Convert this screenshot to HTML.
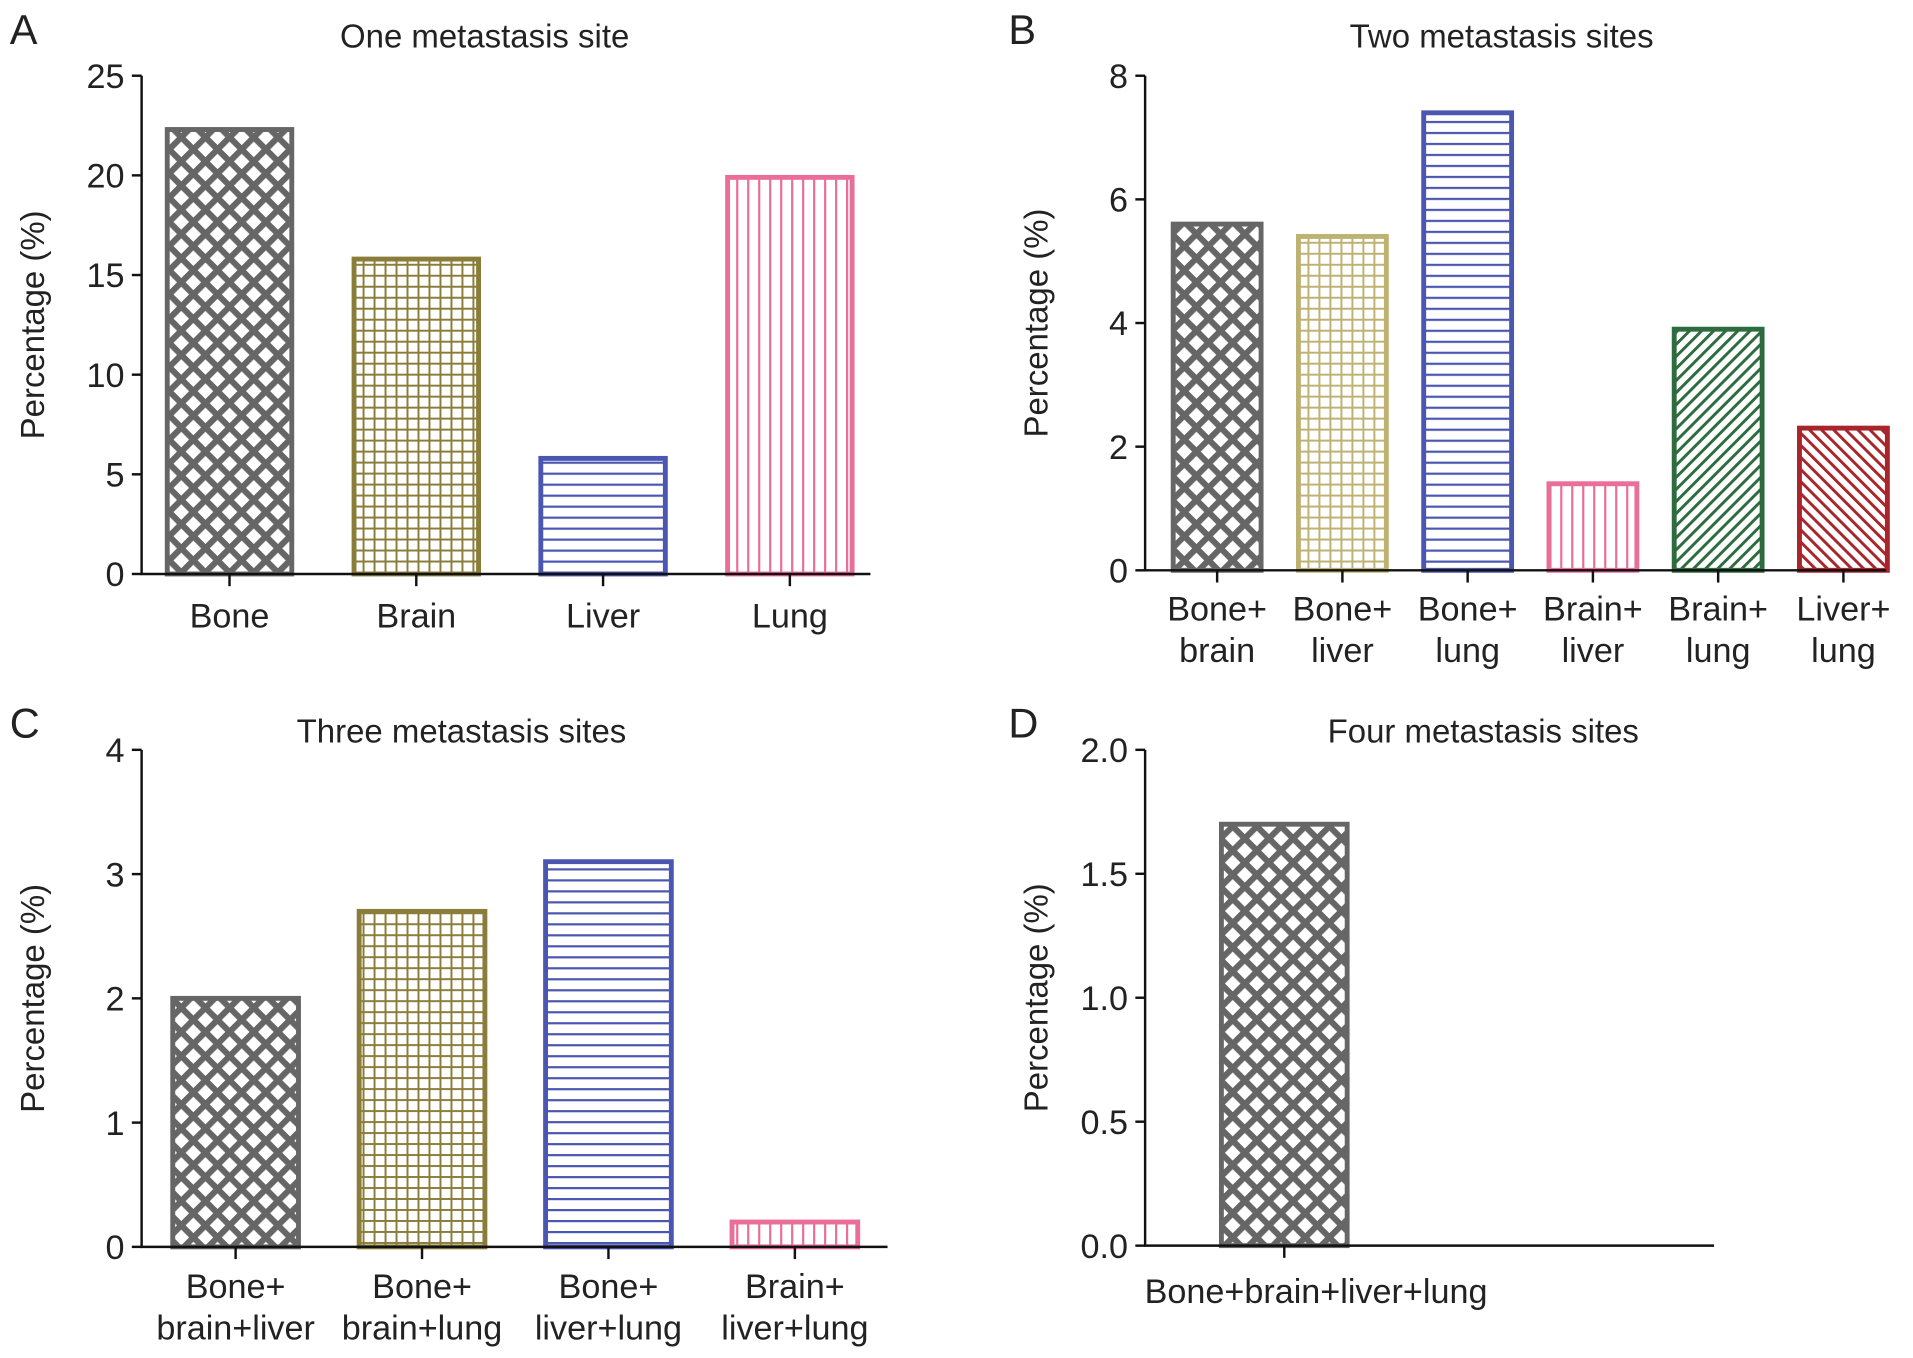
<!DOCTYPE html>
<html><head><meta charset="utf-8"><style>
html,body{margin:0;padding:0;background:#fff;}
svg{display:block;}
text{font-family:"Liberation Sans",sans-serif;fill:#222;}
</style></head><body>
<svg id="fig" width="1913" height="1358" viewBox="0 0 1567 1112" preserveAspectRatio="none" xmlns="http://www.w3.org/2000/svg">
<defs>
<pattern id="p-cross-gray" patternUnits="userSpaceOnUse" width="14" height="14" patternTransform="rotate(45)"><rect width="14" height="14" fill="#fff"/><rect width="5" height="14" fill="#666"/><rect width="14" height="5" fill="#666"/></pattern>
<pattern id="p-grid-olive" patternUnits="userSpaceOnUse" width="9" height="9"><rect width="9" height="9" fill="#fff"/><rect width="1.6" height="9" fill="#8a7d3a"/><rect width="9" height="1.6" fill="#8a7d3a"/></pattern>
<pattern id="p-grid-khaki" patternUnits="userSpaceOnUse" width="9" height="9"><rect width="9" height="9" fill="#fff"/><rect width="1.6" height="9" fill="#bdb272"/><rect width="9" height="1.6" fill="#bdb272"/></pattern>
<pattern id="p-h-blue" patternUnits="userSpaceOnUse" width="10" height="9"><rect width="10" height="9" fill="#fff"/><rect width="10" height="1.8" fill="#4a56b0"/></pattern>
<pattern id="p-v-pink" patternUnits="userSpaceOnUse" width="9" height="10"><rect width="9" height="10" fill="#fff"/><rect width="1.8" height="10" fill="#ea6f98"/></pattern>
<pattern id="p-d-green" patternUnits="userSpaceOnUse" width="7" height="7" patternTransform="rotate(45)"><rect width="7" height="7" fill="#fff"/><rect width="2.4" height="7" fill="#2e6b3e"/></pattern>
<pattern id="p-d-red" patternUnits="userSpaceOnUse" width="7" height="7" patternTransform="rotate(-45)"><rect width="7" height="7" fill="#fff"/><rect width="2.4" height="7" fill="#a8262b"/></pattern>
</defs>
</svg>
<script>
// Panel A
const catsA = [["Bone"],["Brain"],["Liver"],["Lung"]];
const valsA = [22.3, 15.8, 5.8, 19.9];
const ticksA = [0,5,10,15,20,25];
const tickLabelsA = ["0","5","10","15","20","25"];
// Panel B
const catsB = [["Bone+","brain"],["Bone+","liver"],["Bone+","lung"],["Brain+","liver"],["Brain+","lung"],["Liver+","lung"]];
const valsB = [5.6, 5.4, 7.4, 1.4, 3.9, 2.3];
const ticksB = [0,2,4,6,8];
const tickLabelsB = ["0","2","4","6","8"];
// Panel C
const catsC = [["Bone+","brain+liver"],["Bone+","brain+lung"],["Bone+","liver+lung"],["Brain+","liver+lung"]];
const valsC = [2.0, 2.7, 3.1, 0.2];
const ticksC = [0,1,2,3,4];
const tickLabelsC = ["0","1","2","3","4"];
// Panel D
const catsD = [["Bone+brain+liver+lung"]];
const valsD = [1.7];
const ticksD = [0,0.5,1,1.5,2];
const tickLabelsD = ["0.0","0.5","1.0","1.5","2.0"];

const svg = document.getElementById('fig');
const NS = 'http://www.w3.org/2000/svg';
function mk(tag, attrs, parent){const e=document.createElementNS(NS,tag);for(const k in attrs)e.setAttribute(k,attrs[k]);(parent||svg).appendChild(e);return e;}

const styles = {
 gray:{fill:'url(#p-cross-gray)',stroke:'#666'},
 olive:{fill:'url(#p-grid-olive)',stroke:'#8a7d3a'},
 khaki:{fill:'url(#p-grid-khaki)',stroke:'#bdb272'},
 blue:{fill:'url(#p-h-blue)',stroke:'#4a56b0'},
 pink:{fill:'url(#p-v-pink)',stroke:'#ea6f98'},
 green:{fill:'url(#p-d-green)',stroke:'#2e6b3e'},
 red:{fill:'url(#p-d-red)',stroke:'#a8262b'}
};

function panel(cfg){
 const g = mk('g',{});
 
 
 const {x0,x1,yTop,yBot,max} = cfg;
 const yS = v => yBot - (v/max)*(yBot-yTop);
 const xC = i => cfg.first + i*cfg.slot;
 const L = mk('text',{x:cfg.lx,y:cfg.ly,'font-size':34},g); L.textContent=cfg.letter;
  
 const T = mk('text',{x:cfg.tx,y:cfg.ty,'font-size':27,'text-anchor':'middle'},g); T.textContent=cfg.title;
  
 const Y = mk('text',{x:0,y:0,'font-size':27,'text-anchor':'middle',transform:`translate(${x0-80},${(yTop+yBot)/2}) rotate(-90)`},g); Y.textContent='Percentage (%)';
  
 cfg.vals.forEach((v,i)=>{
  const st = styles[cfg.colors[i]];
  const r = mk('rect',{x:xC(i)-cfg.bw/2,y:yS(v),width:cfg.bw,height:yBot-yS(v),fill:st.fill,stroke:st.stroke,'stroke-width':4},g);
  
  
 });
 const ax = mk('path',{d:`M${x0},${yTop} V${yBot} H${x1}`,stroke:'#111','stroke-width':2,fill:'none'},g);
  
 cfg.ticks.forEach((t,i)=>{
  mk('line',{x1:x0-8,x2:x0,y1:yS(t),y2:yS(t),stroke:'#111','stroke-width':2},g);
  const tl = mk('text',{x:x0-14,y:yS(t)+10,'font-size':28,'text-anchor':'end'},g); tl.textContent=cfg.tickLabels[i];
   
 });
 cfg.cats.forEach((c,i)=>{
  mk('line',{x1:xC(i),x2:xC(i),y1:yBot,y2:yBot+10,stroke:'#111','stroke-width':2},g);
  c.forEach((ln,j)=>{
   const xl = mk('text',{x:xC(i)+(cfg.lshift||0),y:cfg.ly1+j*34,'font-size':28,'text-anchor':'middle'},g); xl.textContent=ln;
    
  });
 });
}

panel({name:'panel-a',letter:'A',lx:8,ly:36,title:'One metastasis site',tx:397,ty:39,x0:116,x1:713,yTop:62,yBot:470,max:25,
 cats:catsA,vals:valsA,ticks:ticksA,tickLabels:tickLabelsA,first:188,slot:153,bw:102,ly1:514,colors:['gray','olive','blue','pink']});
panel({name:'panel-b',letter:'B',lx:826,ly:36,title:'Two metastasis sites',tx:1230,ty:39,x0:938,x1:1545,yTop:62,yBot:467,max:8,
 cats:catsB,vals:valsB,ticks:ticksB,tickLabels:tickLabelsB,first:997,slot:102.6,bw:72,ly1:508,colors:['gray','khaki','blue','pink','green','red']});
panel({name:'panel-c',letter:'C',lx:8,ly:604,title:'Three metastasis sites',tx:378,ty:608,x0:116,x1:727,yTop:614,yBot:1021,max:4,
 cats:catsC,vals:valsC,ticks:ticksC,tickLabels:tickLabelsC,first:193,slot:152.7,bw:103,ly1:1063,colors:['gray','olive','blue','pink']});
panel({name:'panel-d',letter:'D',lx:826,ly:604,title:'Four metastasis sites',tx:1215,ty:608,x0:938,x1:1404,yTop:614,yBot:1020,max:2,
 cats:catsD,vals:valsD,ticks:ticksD,tickLabels:tickLabelsD,first:1052,slot:100,bw:103,ly1:1067,lshift:26,colors:['gray']});
</script>
</body></html>
